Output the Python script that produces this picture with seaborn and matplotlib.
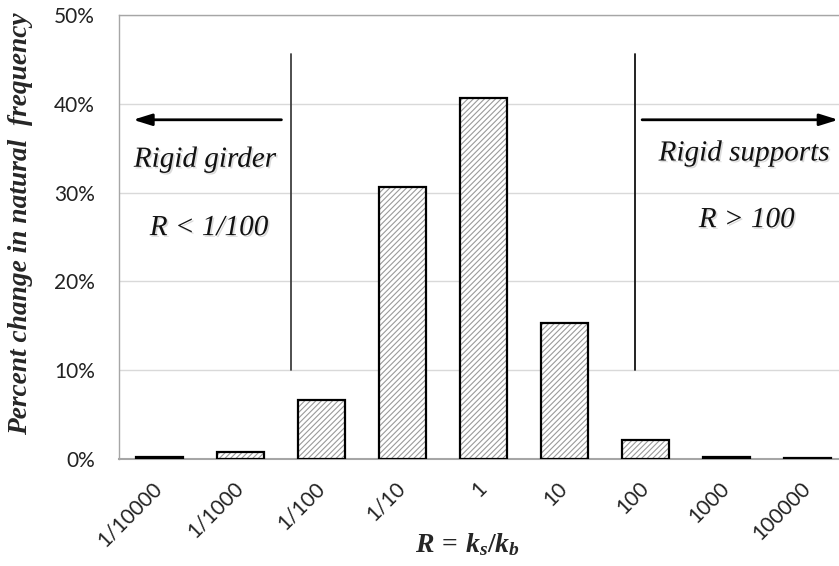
import matplotlib
matplotlib.use("Agg")
import matplotlib.pyplot as plt
import matplotlib.patheffects as pe
from matplotlib.patches import Rectangle
import seaborn as sns
import pandas as pd

# stiffness ratio categories and the resulting change in natural frequency (%)
ratios = ["1/10000", "1/1000", "1/100", "1/10", "1", "10", "100", "1000", "100000"]
pct_change = [0.2, 0.8, 6.6, 30.6, 40.6, 15.3, 2.1, 0.2, 0.1]
yticks = [0, 10, 20, 30, 40, 50]

sns.set_theme(style="white")
plt.rcParams["font.family"] = ["Lato", "DejaVu Sans"]
plt.rcParams["hatch.linewidth"] = 0.8
plt.rcParams["mathtext.fontset"] = "custom"
plt.rcParams["mathtext.it"] = "Liberation Serif:italic:bold"
plt.rcParams["mathtext.rm"] = "Liberation Serif:bold"
plt.rcParams["mathtext.bf"] = "Liberation Serif:bold"

W, H = 839, 566
fig = plt.figure(figsize=(W / 100, H / 100), dpi=100)
ax = fig.add_axes([118.5 / W, 107 / H, (848 - 118.5) / W, 444 / H])

df = pd.DataFrame({"R": ratios, "pct": pct_change})
sns.barplot(data=df, x="R", y="pct", order=ratios, color="white",
            width=0.58, saturation=1, linewidth=0, ax=ax, zorder=3)

# hatched fill in gray, then a crisp black outline on top
for p in list(ax.patches):
    p.set_hatch("//////")
    p.set_edgecolor("#9a9a9a")
    p.set_linewidth(0)
    ax.add_patch(Rectangle(p.get_xy(), p.get_width(), p.get_height(),
                           fill=False, edgecolor="black", linewidth=1.6, zorder=4))

ax.set_ylim(0, 50)
ax.set_xlim(-0.5, len(ratios) - 0.5)
ax.set_yticks(yticks)
ax.set_yticklabels([f"{v}%" for v in yticks])
ax.set_xticks(range(len(ratios)))
ax.set_xticklabels(ratios, rotation=45, ha="right", va="center", rotation_mode="anchor")
ax.tick_params(axis="y", length=0, pad=17, labelsize=15, labelcolor="#222222")
ax.tick_params(axis="x", length=0, pad=19, labelsize=15, labelcolor="#222222")

ax.grid(axis="y", color="#d9d9d9", linewidth=1.0, zorder=0)
ax.set_axisbelow(True)
for side in ["left", "top"]:
    ax.spines[side].set_color("#a6a6a6")
    ax.spines[side].set_linewidth(1.0)
ax.spines["bottom"].set_color("#a6a6a6")
ax.spines["bottom"].set_linewidth(1.5)
ax.spines["right"].set_visible(False)

ax.set_ylabel("Percent change in natural  frequency", family="Liberation Serif",
              fontsize=19.7, fontweight="bold", fontstyle="italic")
ax.yaxis.set_label_coords(-0.117, 0.53)
ax.set_xlabel(r"$R\,=\,k_s/k_b$", fontsize=20, va="top")
ax.xaxis.set_label_coords(0.478, -0.162)

# regime boundaries
ax.plot([1.63, 1.63], [10, 45.6], color="#404040", linewidth=1.3, zorder=5)
ax.plot([5.87, 5.87], [10, 45.6], color="#111111", linewidth=1.3, zorder=5)

arrow = dict(arrowstyle="-|>,head_length=0.8,head_width=0.25", color="black",
             linewidth=2, mutation_scale=14, shrinkA=0, shrinkB=0)
ax.annotate("", xy=(-0.32, 38.2), xytext=(1.51, 38.2), arrowprops=arrow,
            annotation_clip=False, zorder=5)
ax.annotate("", xy=(8.38, 38.2), xytext=(5.96, 38.2), arrowprops=arrow,
            annotation_clip=False, zorder=5)

shadow = [pe.SimplePatchShadow(offset=(1.2, -1.2), shadow_rgbFace="#999999", alpha=0.35),
          pe.Normal()]
txt = dict(family="Liberation Serif", fontstyle="italic", fontsize=21,
           ha="center", va="center", color="#111111", path_effects=shadow, zorder=6)
ax.text(0.567, 33.7, "Rigid girder", **txt)
ax.text(0.617, 26.0, "R < 1/100", **txt)
ax.text(7.22, 34.4, "Rigid supports", **txt)
ax.text(7.25, 26.9, "R > 100", **txt)

fig.savefig("out.png", dpi=100)
